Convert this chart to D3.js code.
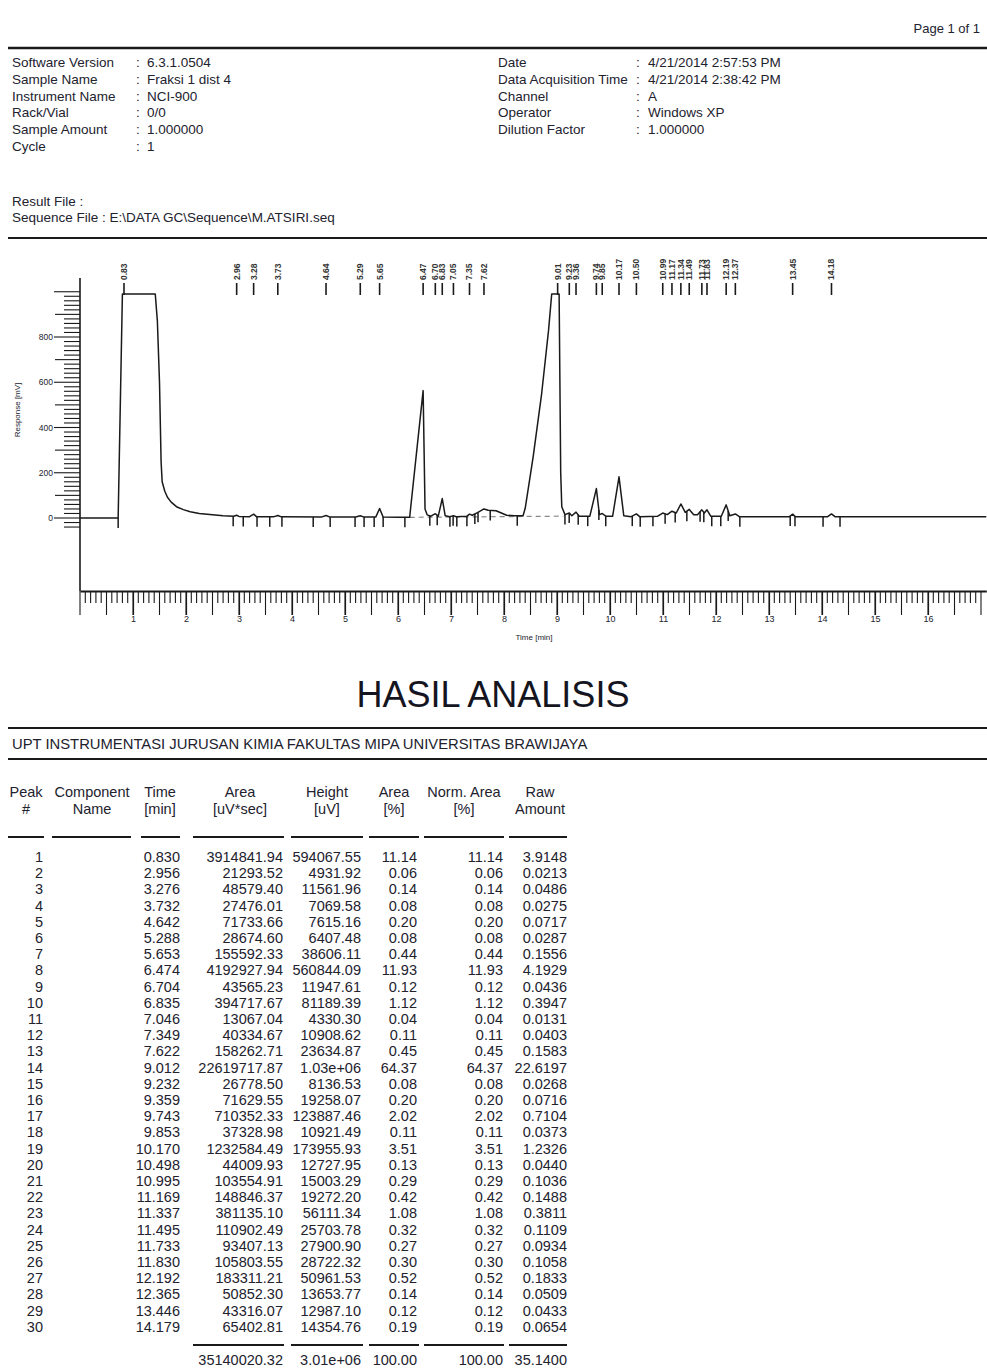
<!DOCTYPE html>
<html>
<head>
<meta charset="utf-8">
<script src="https://cdn.jsdelivr.net/npm/d3@7"></script>
<style>
  html, body { margin: 0; padding: 0; background: #fff; }
  svg { display: block; font-family: "Liberation Sans", Arial, sans-serif; }
</style>
</head>
<body>
<svg id="page" width="987" height="1371"></svg>
<script>
// ---- report header ----
const headerLeft = [
  ["Software Version", "6.3.1.0504"],
  ["Sample Name", "Fraksi 1 dist 4"],
  ["Instrument Name", "NCI-900"],
  ["Rack/Vial", "0/0"],
  ["Sample Amount", "1.000000"],
  ["Cycle", "1"]
];
const headerRight = [
  ["Date", "4/21/2014 2:57:53 PM"],
  ["Data Acquisition Time", "4/21/2014 2:38:42 PM"],
  ["Channel", "A"],
  ["Operator", "Windows XP"],
  ["Dilution Factor", "1.000000"]
];

// ---- peak table ----
const retTimes = [0.830, 2.956, 3.276, 3.732, 4.642, 5.288, 5.653, 6.474, 6.704, 6.835,
  7.046, 7.349, 7.622, 9.012, 9.232, 9.359, 9.743, 9.853, 10.170, 10.498,
  10.995, 11.169, 11.337, 11.495, 11.733, 11.830, 12.192, 12.365, 13.446, 14.179];
const areas = [3914841.94, 21293.52, 48579.40, 27476.01, 71733.66, 28674.60, 155592.33, 4192927.94, 43565.23, 394717.67,
  13067.04, 40334.67, 158262.71, 22619717.87, 26778.50, 71629.55, 710352.33, 37328.98, 1232584.49, 44009.93,
  103554.91, 148846.37, 381135.10, 110902.49, 93407.13, 105803.55, 183311.21, 50852.30, 43316.07, 65402.81];
const heights = [594067.55, 4931.92, 11561.96, 7069.58, 7615.16, 6407.48, 38606.11, 560844.09, 11947.61, 81189.39,
  4330.30, 10908.62, 23634.87, 1030000, 8136.53, 19258.07, 123887.46, 10921.49, 173955.93, 12727.95,
  15003.29, 19272.20, 56111.34, 25703.78, 27900.90, 28722.32, 50961.53, 13653.77, 12987.10, 14354.76];
const areaPct = [11.14, 0.06, 0.14, 0.08, 0.20, 0.08, 0.44, 11.93, 0.12, 1.12,
  0.04, 0.11, 0.45, 64.37, 0.08, 0.20, 2.02, 0.11, 3.51, 0.13,
  0.29, 0.42, 1.08, 0.32, 0.27, 0.30, 0.52, 0.14, 0.12, 0.19];
const normAreaPct = [11.14, 0.06, 0.14, 0.08, 0.20, 0.08, 0.44, 11.93, 0.12, 1.12,
  0.04, 0.11, 0.45, 64.37, 0.08, 0.20, 2.02, 0.11, 3.51, 0.13,
  0.29, 0.42, 1.08, 0.32, 0.27, 0.30, 0.52, 0.14, 0.12, 0.19];
const rawAmounts = [3.9148, 0.0213, 0.0486, 0.0275, 0.0717, 0.0287, 0.1556, 4.1929, 0.0436, 0.3947,
  0.0131, 0.0403, 0.1583, 22.6197, 0.0268, 0.0716, 0.7104, 0.0373, 1.2326, 0.0440,
  0.1036, 0.1488, 0.3811, 0.1109, 0.0934, 0.1058, 0.1833, 0.0509, 0.0433, 0.0654];
const totals = { area: 35140020.32, height: 3010000, areaPct: 100.00, normArea: 100.00, raw: 35.1400 };

// ---- chromatogram trace: [time (min), response (mV)] ----
const trace = [
  [0, 0], [0.72, 0], [0.80, 990], [1.42, 990], [1.46, 870], [1.50, 600], [1.53, 250], [1.55, 160],
  [1.60, 118], [1.65, 92], [1.72, 70], [1.82, 50], [1.95, 37], [2.08, 28], [2.25, 20], [2.45, 15],
  [2.70, 10], [2.90, 8], [2.956, 12], [3.00, 7], [3.20, 6], [3.276, 17], [3.33, 6],
  [3.65, 5], [3.732, 11], [3.80, 5], [4.55, 4], [4.642, 11], [4.72, 4], [5.20, 4], [5.288, 10], [5.36, 4],
  [5.58, 4], [5.653, 42], [5.72, 4], [6.00, 3], [6.22, 3], [6.474, 563], [6.51, 40], [6.55, 14],
  [6.62, 8], [6.704, 19], [6.76, 8], [6.835, 86], [6.89, 10], [6.98, 6], [7.046, 10], [7.10, 6],
  [7.30, 8], [7.349, 17], [7.40, 12], [7.50, 24], [7.622, 40], [7.70, 34], [7.85, 32], [7.95, 22],
  [8.05, 12], [8.20, 10], [8.36, 10], [8.40, 43], [8.55, 270], [8.71, 549], [8.84, 828], [8.90, 990],
  [9.04, 990], [9.07, 200], [9.09, 50], [9.15, 15], [9.232, 22], [9.28, 10], [9.359, 26], [9.42, 8],
  [9.62, 8], [9.743, 130], [9.80, 15], [9.853, 20], [9.92, 8], [10.05, 8], [10.17, 182], [10.26, 10],
  [10.40, 6], [10.498, 18], [10.56, 6], [10.90, 8], [10.995, 22], [11.08, 15], [11.169, 30], [11.25, 22],
  [11.337, 62], [11.42, 25], [11.495, 38], [11.58, 14], [11.65, 14], [11.733, 36], [11.78, 22], [11.83, 36],
  [11.90, 8], [12.10, 8], [12.192, 58], [12.26, 10], [12.365, 18], [12.44, 6], [13.0, 5], [13.38, 5],
  [13.446, 17], [13.50, 5], [14.10, 5], [14.179, 18], [14.25, 5], [15.0, 5], [17.1, 5]
];
// integration start/stop marks (min)
const eventTimes = [0.72, 2.89, 3.08, 3.34, 3.58, 3.81, 4.40, 4.72, 5.19, 5.36, 5.55, 5.72, 6.13,
  6.60, 6.74, 6.98, 7.04, 7.11, 7.30, 7.45, 7.51, 7.74, 8.25, 9.15, 9.23, 9.40, 9.58, 9.79, 9.92,
  10.42, 10.57, 10.81, 11.04, 11.23, 11.45, 11.70, 11.77, 11.92, 12.09, 12.23, 12.45, 13.40, 13.49,
  14.02, 14.34];
// baseline drawn under the fused peaks
const dropBaseline = [[6.22, 3], [9.12, 8]];

const yTickValues = [0, 200, 400, 600, 800];
const xTickValues = d3.range(1, 17);

const svg = d3.select("#page");
const ink = "#1a1a1a";
const textCol = "#22222e";

// page top
svg.append("text").attr("x", 980).attr("y", 33).attr("text-anchor", "end")
  .attr("font-size", 13).attr("fill", textCol).text("Page 1 of 1");
svg.append("line").attr("x1", 8).attr("x2", 987).attr("y1", 48).attr("y2", 48)
  .attr("stroke", ink).attr("stroke-width", 2.4);

function headerBlock(rows, xLabel, xColon, xValue, y0, dy) {
  const g = svg.append("g").attr("font-size", 13.5).attr("fill", textCol);
  rows.forEach((r, i) => {
    const yy = y0 + i * dy;
    g.append("text").attr("x", xLabel).attr("y", yy).text(r[0]);
    g.append("text").attr("x", xColon).attr("y", yy).text(":");
    g.append("text").attr("x", xValue).attr("y", yy).text(r[1]);
  });
}
headerBlock(headerLeft, 12, 136, 147, 67, 16.8);
headerBlock(headerRight, 498, 636, 648, 67, 16.8);

svg.append("text").attr("x", 12).attr("y", 206).attr("font-size", 13.5).attr("fill", textCol).text("Result File :");
svg.append("text").attr("x", 12).attr("y", 222).attr("font-size", 13.5).attr("fill", textCol)
  .text("Sequence File : E:\\DATA GC\\Sequence\\M.ATSIRI.seq");
svg.append("line").attr("x1", 8).attr("x2", 987).attr("y1", 238).attr("y2", 238)
  .attr("stroke", ink).attr("stroke-width", 2);

// ---- chromatogram ----
const x = d3.scaleLinear().domain([0, 17.1]).range([80, 80 + 17.1 * 53]);
const y = d3.scaleLinear().domain([0, 800]).range([518, 337]);
const chart = svg.append("g");

// y axis: ladder of minor ticks, longer ticks at odd hundreds, labels at 200s
chart.append("line").attr("x1", 80).attr("x2", 80).attr("y1", 278).attr("y2", 591)
  .attr("stroke", ink).attr("stroke-width", 1.6);
const minorY = d3.range(-40, 1001, 20);
chart.append("g").selectAll("line").data(minorY).join("line")
  .attr("x1", d => (d % 200 === 0) ? 54 : (d % 100 === 0 ? 55 : 64)).attr("x2", 80)
  .attr("y1", d => y(d)).attr("y2", d => y(d))
  .attr("stroke", ink).attr("stroke-width", 1.1);
chart.append("g").selectAll("text").data(yTickValues).join("text")
  .attr("x", 53).attr("y", d => y(d) + 3).attr("text-anchor", "end")
  .attr("font-size", 8.5).attr("fill", textCol).text(d => d);
chart.append("text").attr("transform", "translate(20,410) rotate(-90)")
  .attr("text-anchor", "middle").attr("font-size", 8).attr("fill", textCol).text("Response [mV]");

// x axis
const xAxis = d3.axisBottom(x).tickValues(xTickValues).tickSize(24).tickPadding(1).tickSizeOuter(0);
const xg = chart.append("g").attr("transform", "translate(0,591)").call(xAxis);
xg.select(".domain").attr("stroke", ink).attr("stroke-width", 1.8);
xg.selectAll(".tick line").attr("stroke", ink).attr("stroke-width", 1.2);
xg.selectAll(".tick text").attr("font-size", 9).attr("fill", textCol)
  .attr("font-family", "Liberation Sans, Arial, sans-serif");
const minorX = d3.range(0, 171).map(i => i / 10);
chart.append("g").selectAll("line").data(minorX).join("line")
  .attr("x1", d => x(d)).attr("x2", d => x(d)).attr("y1", 591)
  .attr("y2", d => Math.abs(d * 2 - Math.round(d * 2)) < 1e-6 ? 615 : 603)
  .attr("stroke", ink).attr("stroke-width", 1.1);
chart.append("text").attr("x", 534).attr("y", 640).attr("text-anchor", "middle")
  .attr("font-size", 8).attr("fill", textCol).text("Time [min]");

// baseline under fused peaks
chart.append("line")
  .attr("x1", x(dropBaseline[0][0])).attr("y1", y(dropBaseline[0][1]))
  .attr("x2", x(dropBaseline[1][0])).attr("y2", y(dropBaseline[1][1]))
  .attr("stroke", "#888").attr("stroke-width", 1.2).attr("stroke-dasharray", "5,4");

// signal
const line = d3.line().x(d => x(d[0])).y(d => y(d[1]));
chart.append("path").datum(trace).attr("d", line)
  .attr("fill", "none").attr("stroke", ink).attr("stroke-width", 1.5).attr("stroke-linejoin", "round");

// integration marks
const traceAt = t => {
  const i = d3.bisector(d => d[0]).left(trace, t);
  if (i <= 0) return trace[0][1];
  const a = trace[i - 1], b = trace[i];
  return a[1] + (b[1] - a[1]) * (t - a[0]) / (b[0] - a[0]);
};
chart.append("g").selectAll("line").data(eventTimes).join("line")
  .attr("x1", d => x(d)).attr("x2", d => x(d))
  .attr("y1", d => y(traceAt(d))).attr("y2", d => y(traceAt(d)) + 10)
  .attr("stroke", ink).attr("stroke-width", 1.5);

// peak retention time markers along the top
const pk = chart.append("g");
pk.selectAll("line").data(retTimes).join("line")
  .attr("x1", d => x(d)).attr("x2", d => x(d)).attr("y1", 283).attr("y2", 295)
  .attr("stroke", ink).attr("stroke-width", 1.6);
pk.selectAll("text").data(retTimes).join("text")
  .attr("transform", d => `translate(${x(d) + 3},280) rotate(-90)`)
  .attr("font-size", 8.5).attr("font-weight", "bold").attr("fill", "#333").text(d => d.toFixed(2));

// ---- results section ----
svg.append("text").attr("x", 493).attr("y", 707).attr("text-anchor", "middle")
  .attr("font-size", 36).attr("fill", "#15151f").text("HASIL ANALISIS");
svg.append("line").attr("x1", 8).attr("x2", 987).attr("y1", 728).attr("y2", 728)
  .attr("stroke", ink).attr("stroke-width", 2.2);
svg.append("text").attr("x", 12).attr("y", 749).attr("font-size", 14.8).attr("fill", textCol)
  .text("UPT INSTRUMENTASI JURUSAN KIMIA FAKULTAS MIPA UNIVERSITAS BRAWIJAYA");
svg.append("line").attr("x1", 8).attr("x2", 987).attr("y1", 759).attr("y2", 759)
  .attr("stroke", ink).attr("stroke-width", 2.2);

const fmt2 = d3.format(".2f"), fmt3 = d3.format(".3f"), fmt4 = d3.format(".4f");
const fmtHeight = v => v >= 1e6 ? v.toExponential(2).replace(/e\+(\d)$/, "e+0$1") : fmt2(v);

const columns = [
  { h1: "Peak", h2: "#", cx: 26, right: 43, seg: [8, 44], vals: retTimes.map((d, i) => String(i + 1)), tot: "" },
  { h1: "Component", h2: "Name", cx: 92, right: null, seg: [52, 131], vals: null, tot: "" },
  { h1: "Time", h2: "[min]", cx: 160, right: 180, seg: [141, 180], vals: retTimes.map(fmt3), tot: "" },
  { h1: "Area", h2: "[uV*sec]", cx: 240, right: 283, seg: [193, 284], vals: areas.map(fmt2), tot: fmt2(totals.area) },
  { h1: "Height", h2: "[uV]", cx: 327, right: 361, seg: [291, 363], vals: heights.map(fmtHeight), tot: fmtHeight(totals.height) },
  { h1: "Area", h2: "[%]", cx: 394, right: 417, seg: [369, 419], vals: areaPct.map(fmt2), tot: fmt2(totals.areaPct) },
  { h1: "Norm. Area", h2: "[%]", cx: 464, right: 503, seg: [424, 504], vals: normAreaPct.map(fmt2), tot: fmt2(totals.normArea) },
  { h1: "Raw", h2: "Amount", cx: 540, right: 567, seg: [509, 567], vals: rawAmounts.map(fmt4), tot: fmt4(totals.raw) }
];
const tbl = svg.append("g").attr("font-size", 14.5).attr("fill", textCol);
const rowY0 = 862, rowDy = 16.2;
columns.forEach(c => {
  tbl.append("text").attr("x", c.cx).attr("y", 797).attr("text-anchor", "middle").text(c.h1);
  tbl.append("text").attr("x", c.cx).attr("y", 814).attr("text-anchor", "middle").text(c.h2);
  tbl.append("line").attr("x1", c.seg[0]).attr("x2", c.seg[1]).attr("y1", 837).attr("y2", 837)
    .attr("stroke", ink).attr("stroke-width", 2.2);
  if (c.vals) {
    tbl.append("g").selectAll("text").data(c.vals).join("text")
      .attr("x", c.right).attr("y", (d, i) => rowY0 + i * rowDy).attr("text-anchor", "end").text(d => d);
  }
  if (c.tot) {
    tbl.append("line").attr("x1", c.seg[0]).attr("x2", c.seg[1]).attr("y1", 1345).attr("y2", 1345)
      .attr("stroke", ink).attr("stroke-width", 2.2);
    tbl.append("text").attr("x", c.right).attr("y", 1365).attr("text-anchor", "end").text(c.tot);
  }
});
</script>
</body>
</html>
